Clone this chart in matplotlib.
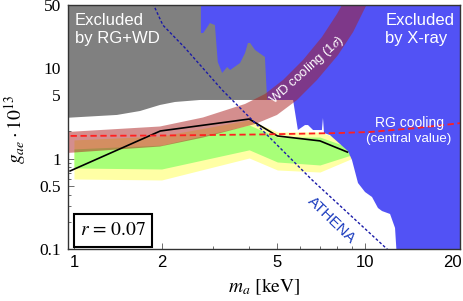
import matplotlib
matplotlib.use("Agg")
import matplotlib.pyplot as plt
from matplotlib.patches import Rectangle
from matplotlib.ticker import NullFormatter, FixedLocator, LogLocator

plt.rcParams['mathtext.fontset'] = 'stix'

# ---------------- data (m_a in keV, g_ae * 1e13) ----------------
# sensitivity bands
band_m    = [1.0, 2.0, 4.0, 5.0, 7.0, 9.0]
yellow_hi = [1.61, 1.78, 2.68, 1.97, 1.97, 1.50]
green_hi  = [1.28, 1.41, 2.35, 1.73, 1.73, 1.30]
green_lo  = [0.787, 0.767, 1.25, 0.917, 0.85, 1.10]
yellow_lo = [0.595, 0.58, 1.015, 0.748, 0.71, 1.00]

# central line
line_m = [0.97, 1.98, 4.0, 5.0, 7.0, 8.7]
line_g = [0.73, 2.02, 2.74, 1.78, 1.57, 1.18]

# RG cooling (central value)
rg_m = [0.9, 2.0, 4.4, 8.2, 10.4, 15.1, 22.0]
rg_g = [1.78, 1.80, 1.85, 1.92, 1.97, 2.18, 2.50]

# excluded by RG+WD (grey)
rgwd_m = [0.9, 1.405, 1.686, 1.975, 2.224, 2.71, 4.61, 4.61, 0.9]
rgwd_g = [2.80, 3.04, 3.36, 3.92, 4.23, 4.45, 4.45, 60, 60]

# excluded by X-ray (blue)
xray_m = [2.73, 2.73, 2.78, 2.86, 2.93, 3.05, 3.12, 3.23, 3.36, 3.44, 3.72,
          3.87, 3.96, 4.03, 4.19, 4.53, 4.61, 5.66, 5.88, 6.22, 6.37, 6.63,
          7.11, 7.17, 7.23, 7.58, 8.74, 9.02, 9.46, 10.0, 10.57, 11.08,
          11.44, 12.19, 12.68, 12.99, 25.0, 25.0]
xray_g = [60, 24.5, 24.5, 28.0, 31.6, 30.0, 11.7, 8.85, 10.3, 9.55, 11.4,
          14.7, 19.0, 19.0, 15.9, 13.3, 4.45, 4.45, 2.07, 2.35, 2.35, 2.07,
          2.07, 2.81, 1.92, 1.82, 1.21, 0.965, 0.537, 0.427, 0.376, 0.284,
          0.263, 0.244, 0.171, 0.05, 0.05, 60]

# WD cooling 1 sigma band edges
wd_up_m = [0.9, 1.975, 2.776, 3.87, 4.53, 5.23, 6.12, 7.11, 8.01, 8.6]
wd_up_g = [1.95, 2.265, 2.85, 4.02, 5.18, 7.41, 12.3, 22.1, 39.8, 60]
wd_lo_m = [0.9, 1.975, 2.776, 4.19, 4.985, 5.84, 6.84, 8.08, 9.10, 10.4]
wd_lo_g = [1.14, 1.36, 1.71, 2.41, 3.04, 4.45, 7.41, 14.0, 25.1, 60]

# ATHENA sensitivity
athena_m = [1.83, 2.02, 2.41, 3.23, 4.72, 6.58, 11.9, 13.0]
athena_g = [60, 30.0, 16.7, 5.74, 1.69, 0.58, 0.1, 0.075]

xticks = [1, 2, 5, 10, 20]
yticks = [0.1, 0.5, 1, 5, 10, 50]
ytick_labels = ['0.1', '0.5', '1', '5', '10', '50']

# ---------------- figure ----------------
fig = plt.figure(figsize=(4.63, 3.01), dpi=100)
ax = fig.add_axes([68/463, 52/301, 392/463, 244/301])
ax.set_xscale('log')
ax.set_yscale('log')
ax.set_xlim(0.954, 21.2)
ax.set_ylim(0.1, 50)

ax.fill_between(band_m, yellow_lo, yellow_hi, color='#FFFFA5', lw=0, zorder=1)
ax.fill_between(band_m, green_lo, green_hi, color='#A8FF78', lw=0, zorder=2)
ax.fill(rgwd_m, rgwd_g, color='#808080', lw=0, zorder=3)
ax.fill(xray_m, xray_g, color='#5252F5', lw=0, zorder=4)
ax.fill(wd_up_m + wd_lo_m[::-1], wd_up_g + wd_lo_g[::-1],
        color=(0.67, 0.12, 0.12), alpha=0.5, lw=0, zorder=5)
ax.plot(line_m, line_g, color='black', lw=1.2, zorder=6)
ax.plot(rg_m, rg_g, color='#FF2020', lw=1.3, ls=(0, (3.5, 2)), zorder=7)
ax.plot(athena_m, athena_g, color='#1A1AA8', lw=1.0, ls=(0, (2, 1.5)), zorder=8)

# texts
sans = 'Liberation Sans'
ax.text(0.018, 0.918, 'Excluded', transform=ax.transAxes, color='white',
        fontsize=12, family=sans, zorder=10)
ax.text(0.018, 0.844, 'by RG+WD', transform=ax.transAxes, color='white',
        fontsize=12, family=sans, zorder=10)
ax.text(0.809, 0.918, 'Excluded', transform=ax.transAxes, color='white',
        fontsize=12, family=sans, zorder=10)
ax.text(0.809, 0.844, 'by X-ray', transform=ax.transAxes, color='white',
        fontsize=12, family=sans, zorder=10)
ax.text(0.870, 0.50, 'RG cooling', transform=ax.transAxes, color='white',
        fontsize=10, family=sans, ha='center', zorder=10)
ax.text(0.870, 0.440, '(central value)', transform=ax.transAxes, color='white',
        fontsize=9.6, family=sans, ha='center', zorder=10)
ax.text((307-68)/392, (249-70)/244, r'WD cooling (1$\sigma$)', transform=ax.transAxes,
        color='white', fontsize=9.5, family=sans, rotation=42,
        ha='center', va='center', rotation_mode='anchor', zorder=10)
ax.text((332-68)/392, (249-220)/244, 'ATHENA', transform=ax.transAxes,
        color='#1F3FBF', fontsize=11, family=sans, rotation=-44,
        ha='center', va='center', rotation_mode='anchor', zorder=10)

# r box
ax.add_patch(Rectangle((0.0153, 0.0082), 0.199, 0.135, transform=ax.transAxes,
                       facecolor='white', edgecolor='black', lw=1.5, zorder=11))
ax.text(0.0153 + 0.199/2, 0.0082 + 0.135/2, r'$r$ = 0.07', transform=ax.transAxes,
        fontsize=14, family='STIXGeneral', ha='center', va='center', zorder=12)

# axes styling
ax.xaxis.set_major_locator(FixedLocator(xticks))
ax.set_xticklabels([str(t) for t in xticks], family=sans, fontsize=12)
ax.xaxis.set_minor_locator(LogLocator(base=10, subs=range(2, 10)))
ax.xaxis.set_minor_formatter(NullFormatter())
ax.yaxis.set_major_locator(FixedLocator(yticks))
ax.set_yticklabels(ytick_labels, family='Liberation Serif', fontsize=12.5)
ax.yaxis.set_minor_locator(LogLocator(base=10, subs=range(2, 10)))
ax.yaxis.set_minor_formatter(NullFormatter())
ax.tick_params(which='both', direction='in', top=True, right=True,
               color='#555555', width=0.6)
ax.tick_params(which='major', length=4)
ax.tick_params(which='minor', length=2)
ax.tick_params(axis='x', pad=4)
ax.tick_params(axis='y', pad=5)
for s in ax.spines.values():
    s.set_color('#333333')
    s.set_linewidth(1.0)
    s.set_zorder(20)

ax.set_xlabel(r'$m_a$ [keV]', family='STIXGeneral', fontsize=14)
ax.xaxis.set_label_coords(0.5, -0.112)
ax.set_ylabel(r'$g_{ae}\cdot 10^{13}$', fontsize=14, va='center')
ax.yaxis.set_label_coords(-0.135, 0.49)

fig.savefig('out.png', dpi=100)
